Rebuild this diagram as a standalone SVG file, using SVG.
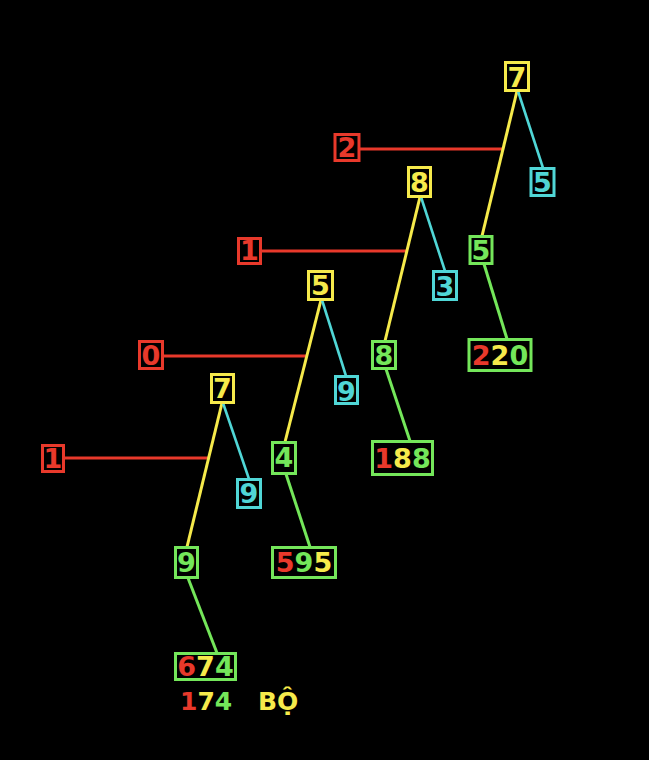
<svg xmlns="http://www.w3.org/2000/svg" width="649" height="760" viewBox="0 0 649 760">
<style>
text{font-family:"DejaVu Sans",Verdana,sans-serif;font-weight:bold;font-size:27px;text-anchor:middle}
.r{fill:#e8392b}.y{fill:#f6ea4b}.g{fill:#74e65a}.c{fill:#50d6d6}
.br{fill:#000;stroke:#e8392b;stroke-width:3}
.by{fill:#000;stroke:#f6ea4b;stroke-width:3}
.bg{fill:#000;stroke:#74e65a;stroke-width:3}
.bc{fill:#000;stroke:#50d6d6;stroke-width:3}
.lr{stroke:#e8392b;stroke-width:3;fill:none}
.ly{stroke:#f6ea4b;stroke-width:3;fill:none}
.lg{stroke:#74e65a;stroke-width:3;fill:none}
.lc{stroke:#50d6d6;stroke-width:2.6;fill:none}
</style>
<rect width="649" height="760" fill="#000"/>
<g id="connectors">
<line class="lr" x1="360" y1="149" x2="504" y2="149"/>
<line class="ly" x1="517" y1="91" x2="482" y2="236"/>
<line class="lc" x1="518" y1="91" x2="543" y2="168"/>
<line class="lg" x1="484" y1="264" x2="507" y2="339"/>
<line class="lr" x1="261" y1="251" x2="406" y2="251"/>
<line class="ly" x1="420" y1="197" x2="385" y2="341"/>
<line class="lc" x1="421" y1="197" x2="445" y2="271"/>
<line class="lg" x1="386" y1="369" x2="410" y2="441"/>
<line class="lr" x1="163" y1="356" x2="307" y2="356"/>
<line class="ly" x1="321" y1="300" x2="285" y2="442"/>
<line class="lc" x1="322" y1="300" x2="346" y2="376"/>
<line class="lg" x1="286" y1="474" x2="310" y2="547"/>
<line class="lr" x1="64" y1="458" x2="209" y2="458"/>
<line class="ly" x1="222" y1="403" x2="187" y2="547"/>
<line class="lc" x1="223" y1="403" x2="249" y2="479"/>
<line class="lg" x1="188" y1="578" x2="217" y2="653"/>
</g>
<g id="a-top"><rect class="by" x="505.5" y="62.5" width="23" height="28"/><text class="y" x="517" y="87">7</text></g>
<g id="a-red"><rect class="br" x="335" y="134.5" width="24" height="26"/><text class="r" x="347" y="157">2</text></g>
<g id="a-cyan"><rect class="bc" x="531" y="168.5" width="23" height="27"/><text class="c" x="542.5" y="192">5</text></g>
<g id="a-green"><rect class="bg" x="470" y="236.5" width="22" height="27"/><text class="g" x="481" y="260">5</text></g>
<g id="a-result"><rect class="bg" x="469" y="339.5" width="62" height="31"/><text x="500" y="365"><tspan class="r">2</tspan><tspan class="y">2</tspan><tspan class="g">0</tspan></text></g>
<g id="b-top"><rect class="by" x="408.5" y="167.5" width="22" height="29"/><text class="y" x="419.5" y="192">8</text></g>
<g id="b-red"><rect class="br" x="238.5" y="238.5" width="22" height="25"/><text class="r" x="249.5" y="260">1</text></g>
<g id="b-cyan"><rect class="bc" x="433.5" y="271.5" width="23" height="28"/><text class="c" x="445" y="296">3</text></g>
<g id="b-green"><rect class="bg" x="372.5" y="341.5" width="23" height="27"/><text class="g" x="384" y="365">8</text></g>
<g id="b-result"><rect class="bg" x="372.5" y="441.5" width="60" height="33"/><text x="402.5" y="468"><tspan class="r">1</tspan><tspan class="y">8</tspan><tspan class="g">8</tspan></text></g>
<g id="c-top"><rect class="by" x="308.5" y="271.5" width="24" height="28"/><text class="y" x="320.5" y="295">5</text></g>
<g id="c-red"><rect class="br" x="139.5" y="341.5" width="23" height="27"/><text class="r" x="151" y="365">0</text></g>
<g id="c-cyan"><rect class="bc" x="335.5" y="376.5" width="22" height="27"/><text class="c" x="346.5" y="401">9</text></g>
<g id="c-green"><rect class="bg" x="272.5" y="442.5" width="23" height="31"/><text class="g" x="284" y="467">4</text></g>
<g id="c-result"><rect class="bg" x="272.5" y="547.5" width="63" height="30"/><text x="304" y="572"><tspan class="r">5</tspan><tspan class="g">9</tspan><tspan class="y">5</tspan></text></g>
<g id="d-top"><rect class="by" x="211.5" y="374.5" width="22" height="28"/><text class="y" x="222.5" y="398">7</text></g>
<g id="d-red"><rect class="br" x="42.5" y="445.5" width="21" height="26"/><text class="r" x="53" y="468">1</text></g>
<g id="d-cyan"><rect class="bc" x="237.5" y="479.5" width="23" height="28"/><text class="c" x="249" y="503">9</text></g>
<g id="d-green"><rect class="bg" x="175.5" y="547.5" width="22" height="30"/><text class="g" x="186.5" y="572">9</text></g>
<g id="d-result"><rect class="bg" x="175.5" y="653.5" width="60" height="26"/><text x="205.5" y="676"><tspan class="r">6</tspan><tspan class="y">7</tspan><tspan class="g">4</tspan></text></g>
<g id="total"><text x="180" y="710" style="text-anchor:start;font-size:25px"><tspan class="r">1</tspan><tspan class="y">7</tspan><tspan class="g">4</tspan><tspan class="y" x="258">BỘ</tspan></text></g>
</svg>
